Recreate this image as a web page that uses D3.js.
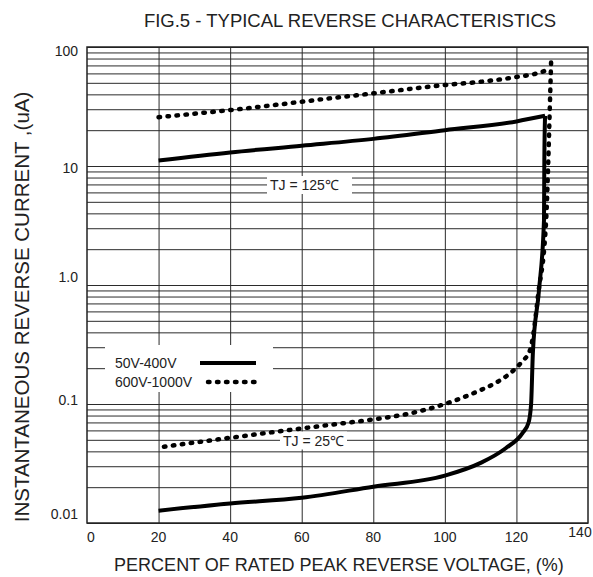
<!DOCTYPE html>
<html>
<head>
<meta charset="utf-8">
<script src="https://cdn.jsdelivr.net/npm/d3@7"></script>
<style>
	body { margin: 0; background: #fff; overflow: hidden; }
	svg { display: block; font-family: 'Liberation Sans', Arial, sans-serif; fill: #222; }
	.grid line { stroke: #2b2b2b; stroke-width: 1; }
	.grid .domain { display: none; }
	.tick-label { font-size: 14px; }
	.title { font-size: 18.5px; }
	.axis-title { font-size: 18px; }
	.axis-title--y { font-size: 20.5px; }
	.note { font-size: 14px; }
	.curve { fill: none; stroke: #000; stroke-width: 4; stroke-linejoin: round; }
	.curve--dotted { stroke-width: 4.5; stroke-dasharray: 1.5 7.5; stroke-linecap: round; }
</style>
</head>
<body>
<svg></svg>
<script>
const xTicks = [0, 20, 40, 60, 80, 100, 120, 140];
const yTicks = [100, 10, 1, 0.1, 0.01];
const yTickLabels = ['100', '10', '1.0', '0.1', '0.01'];

// 50V-400V, TJ = 25C (runs up the steep knee into the 125C curve)
const low50to400 = [[20, 0.0127], [40, 0.0146], [60, 0.0163], [80, 0.0202], [100, 0.025],
	[110, 0.032], [117, 0.0425], [121.7, 0.057], [123.4, 0.07], [124.1, 0.1], [124.6, 0.27],
	[126.3, 0.9], [127.7, 3.5], [127.8, 11], [128, 26.4]];
// 50V-400V, TJ = 125C
const high50to400 = [[20, 11.1], [40, 13], [60, 14.8], [80, 16.9], [100, 20], [120, 23.7], [128, 26.4]];
// 600V-1000V, TJ = 25C
const low600to1000 = [[21.5, 0.0438], [40, 0.052], [55.7, 0.06], [67.8, 0.0667], [80, 0.0743],
	[90, 0.083], [100, 0.1], [109, 0.127], [115.4, 0.158], [118.7, 0.186], [121.5, 0.226],
	[123.8, 0.284], [124.8, 0.4], [126, 0.8], [128.3, 3.5], [128.9, 11], [129.3, 29], [129.7, 77]];
// 600V-1000V, TJ = 125C
const high600to1000 = [[20, 25.7], [42.7, 30.1], [67.8, 37], [80, 40.8], [100, 47.9], [110, 51],
	[120, 56], [126.6, 61], [128.9, 64.6]];

const legendItems = ['50V-400V', '600V-1000V'];

const width = 593;
const height = 577;
const margin = { top: 47, right: 5, bottom: 54, left: 87 };
const innerWidth = width - margin.left - margin.right;
const innerHeight = height - margin.top - margin.bottom;

const svg = d3.select('svg')
	.attr('width', width)
	.attr('height', height);

const xScale = d3.scaleLinear()
	.domain([0, 140])
	.range([margin.left, margin.left + innerWidth]);

const yScale = d3.scaleLog()
	.domain([0.01, 100])
	.range([margin.top + innerHeight, margin.top]);

// grid
svg.append('g')
	.attr('class', 'grid')
	.attr('transform', `translate(${margin.left},0)`)
	.call(d3.axisLeft(yScale).tickValues(yScale.ticks()).tickSize(-innerWidth).tickFormat(''));

svg.append('g')
	.attr('class', 'grid')
	.attr('transform', `translate(0,${margin.top})`)
	.call(d3.axisTop(xScale).tickValues(xTicks.slice(1, -1)).tickSize(-innerHeight).tickFormat(''));

svg.append('rect')
	.attr('x', margin.left)
	.attr('y', margin.top)
	.attr('width', innerWidth)
	.attr('height', innerHeight)
	.attr('fill', 'none')
	.attr('stroke', '#222')
	.attr('stroke-width', 1.5);

// tick labels
const yLabelShift = [4, 2, -8, -4, -9];
svg.selectAll('.y-label')
	.data(yTicks)
	.join('text')
	.attr('class', 'tick-label y-label')
	.attr('x', margin.left - 9)
	.attr('y', (d, i) => yScale(d) + yLabelShift[i] + 5)
	.attr('text-anchor', 'end')
	.text((d, i) => yTickLabels[i]);

svg.selectAll('.x-label')
	.data(xTicks)
	.join('text')
	.attr('class', 'tick-label x-label')
	.attr('x', (d, i) => xScale(d) + (i === 0 ? 4 : (i === xTicks.length - 1 ? -8 : 0)))
	.attr('y', (d, i) => margin.top + innerHeight + (i === xTicks.length - 1 ? 14 : 19))
	.attr('text-anchor', 'middle')
	.text(d => d);

// white boxes for notes and legend
const notes = [
	{ text: 'TJ = 125℃', x: 270, y: 185, w: 85 },
	{ text: 'TJ = 25℃', x: 283, y: 440.5, w: 67 }
];
notes.forEach(n => {
	svg.append('rect')
		.attr('x', n.x - 3)
		.attr('y', n.y - 9)
		.attr('width', n.w)
		.attr('height', 18)
		.attr('fill', '#fff');
	svg.append('text')
		.attr('class', 'note')
		.attr('x', n.x)
		.attr('y', n.y + 5)
		.text(n.text);
});

const legendX = 105;
const legendY = 345;
svg.append('rect')
	.attr('x', legendX)
	.attr('y', legendY)
	.attr('width', 168)
	.attr('height', 47)
	.attr('fill', '#fff');
legendItems.forEach((name, i) => {
	const y = legendY + 18 + i * 19;
	svg.append('text')
		.attr('class', 'note')
		.attr('x', legendX + 10)
		.attr('y', y + 5)
		.text(name);
	svg.append('line')
		.attr('class', i === 0 ? 'curve' : 'curve curve--dotted')
		.attr('x1', legendX + (i === 0 ? 95 : 103))
		.attr('x2', legendX + (i === 0 ? 151 : 156))
		.attr('y1', y)
		.attr('y2', y);
});

// curves
const lineGenerator = d3.line()
	.x(d => xScale(d[0]))
	.y(d => yScale(d[1]))
	.curve(d3.curveMonotoneX);

svg.append('path').attr('class', 'curve').attr('d', lineGenerator(low50to400));
svg.append('path').attr('class', 'curve').attr('d', lineGenerator(high50to400));
svg.append('path').attr('class', 'curve curve--dotted').attr('d', lineGenerator(low600to1000));
svg.append('path').attr('class', 'curve curve--dotted').attr('d', lineGenerator(high600to1000));

// titles
svg.append('text')
	.attr('class', 'title')
	.attr('x', 350)
	.attr('y', 27)
	.attr('text-anchor', 'middle')
	.text('FIG.5 - TYPICAL REVERSE CHARACTERISTICS');

svg.append('text')
	.attr('class', 'axis-title')
	.attr('x', 339)
	.attr('y', 571)
	.attr('text-anchor', 'middle')
	.text('PERCENT OF RATED PEAK REVERSE VOLTAGE, (%)');

svg.append('text')
	.attr('class', 'axis-title axis-title--y')
	.attr('transform', 'translate(29,307) rotate(-90)')
	.attr('text-anchor', 'middle')
	.text('INSTANTANEOUS REVERSE CURRENT ,(uA)');
</script>
</body>
</html>
